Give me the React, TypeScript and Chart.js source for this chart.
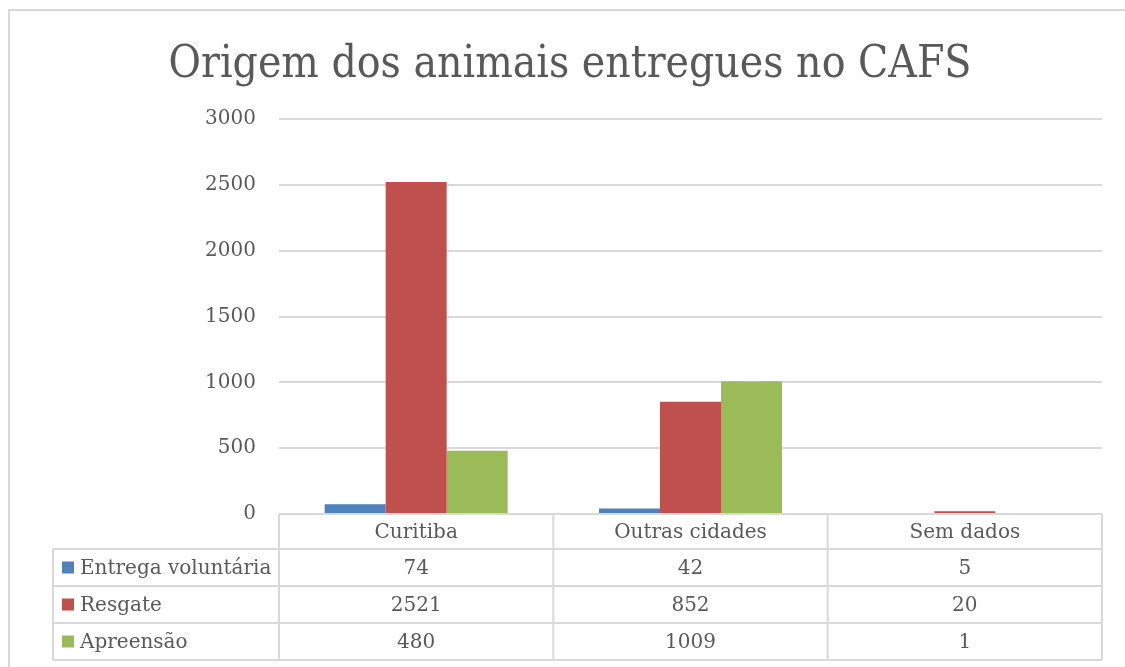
import React, { useEffect, useRef } from "react";
import { Chart, registerables } from "chart.js";

Chart.register(...registerables);

const title = "Origem dos animais entregues no CAFS";
const categories = ["Curitiba", "Outras cidades", "Sem dados"];
const seriesNames = ["Entrega voluntária", "Resgate", "Apreensão"];
const entregaVoluntaria = [74, 42, 5];
const resgate = [2521, 852, 20];
const apreensao = [480, 1009, 1];
const seriesColors = ["#4F81BD", "#C0504D", "#9BBB59"];
const yTicks = [0, 500, 1000, 1500, 2000, 2500, 3000];

const FONT = "'DejaVu Serif', 'Liberation Serif', serif";
const TITLE_FONT = "'DejaVu Serif Condensed', 'DejaVu Serif', serif";
const TEXT = "#595959";
const LINE = "#d9d9d9";

const tablePlugin = {
  id: "tablePlugin",
  afterDraw(chart: any) {
    const ctx = chart.ctx;
    const area = chart.chartArea;
    const x = chart.scales.x;
    const n = categories.length;
    const colW = (area.right - area.left) / n;
    const headerH = 35;
    const rowH = 37;
    const tableLeft = 53;
    const top = area.bottom;
    const rowsTop = top + headerH;
    const bottom = rowsTop + rowH * seriesNames.length;
    const allData = [entregaVoluntaria, resgate, apreensao];

    ctx.save();
    // outer border
    ctx.strokeStyle = LINE;
    ctx.lineWidth = 2;
    ctx.strokeRect(9, 10, 1130, 700);

    // title
    ctx.fillStyle = TEXT;
    ctx.font = `44px ${TITLE_FONT}`;
    try {
      (ctx as any).fontStretch = "condensed";
    } catch (e) {}
    ctx.textAlign = "center";
    ctx.textBaseline = "alphabetic";
    ctx.fillText(title, 570, 77);
    try {
      (ctx as any).fontStretch = "normal";
    } catch (e) {}

    // table lines
    ctx.strokeStyle = LINE;
    ctx.lineWidth = 2;
    ctx.beginPath();
    ctx.moveTo(area.left, top);
    ctx.lineTo(area.right, top);
    for (let r = 0; r <= seriesNames.length; r++) {
      const yy = rowsTop + r * rowH;
      ctx.moveTo(tableLeft, yy);
      ctx.lineTo(area.right, yy);
    }
    ctx.moveTo(tableLeft, rowsTop);
    ctx.lineTo(tableLeft, bottom);
    for (let c = 0; c <= n; c++) {
      const xx = c === n ? area.right : x.getPixelForValue(c) - colW / 2;
      ctx.moveTo(xx, top);
      ctx.lineTo(xx, bottom);
    }
    ctx.stroke();

    // header text
    ctx.font = `20px ${FONT}`;
    ctx.fillStyle = TEXT;
    ctx.textAlign = "center";
    ctx.textBaseline = "middle";
    categories.forEach((c, i) => {
      ctx.fillText(c, x.getPixelForValue(i), top + headerH / 2 + 1);
    });

    // rows
    seriesNames.forEach((name, r) => {
      const cy = rowsTop + r * rowH + rowH / 2 + 1;
      ctx.fillStyle = seriesColors[r];
      ctx.fillRect(62, cy - 7, 12, 12);
      ctx.fillStyle = TEXT;
      ctx.textAlign = "left";
      ctx.fillText(name, 80, cy);
      ctx.textAlign = "center";
      allData[r].forEach((v, i) => {
        ctx.fillText(String(v), x.getPixelForValue(i), cy);
      });
    });
    ctx.restore();
  },
};

export default function App() {
  const ref = useRef<HTMLCanvasElement>(null);
  useEffect(() => {
    if (!ref.current) return;
    const chart = new Chart(ref.current, {
      type: "bar",
      data: {
        labels: categories,
        datasets: [
          { label: seriesNames[0], data: entregaVoluntaria, backgroundColor: seriesColors[0] },
          { label: seriesNames[1], data: resgate, backgroundColor: seriesColors[1] },
          { label: seriesNames[2], data: apreensao, backgroundColor: seriesColors[2] },
        ],
      },
      options: {
        responsive: false,
        animation: false,
        devicePixelRatio: 1,
        layout: { padding: { top: 119, bottom: 153, left: 0, right: 23 } },
        datasets: { bar: { barPercentage: 1, categoryPercentage: 0.667, borderWidth: 0 } },
        plugins: { legend: { display: false }, title: { display: false }, tooltip: { enabled: false } },
        scales: {
          x: { display: false },
          y: {
            min: 0,
            max: 3000,
            afterBuildTicks: (s: any) => {
              s.ticks = yTicks.map((v) => ({ value: v }));
            },
            afterFit: (s: any) => {
              s.width = 279;
            },
            border: { display: false },
            grid: { color: LINE, lineWidth: 2, drawTicks: false },
            ticks: {
              color: TEXT,
              font: { family: FONT, size: 20 },
              padding: 23,
              callback: (v: any) => String(v),
            },
          },
        },
      },
      plugins: [tablePlugin],
    });
    return () => chart.destroy();
  }, []);
  return (
    <div style={{ position: "absolute", left: 0, top: 0, width: 1125, height: 667, background: "#fff" }}>
      <canvas ref={ref} width={1125} height={667} />
    </div>
  );
}
